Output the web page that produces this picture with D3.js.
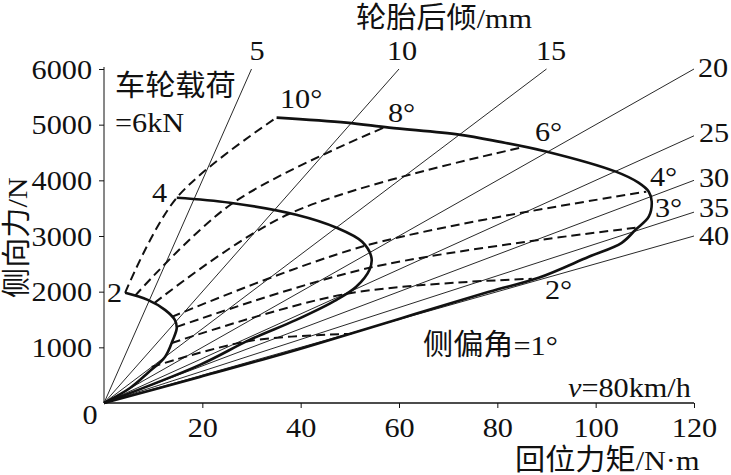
<!DOCTYPE html>
<html><head><meta charset="utf-8">
<script src="https://cdn.jsdelivr.net/npm/d3@7"></script>
<style>
html,body{margin:0;padding:0;background:#fff;}
svg{display:block;}
</style></head>
<body>
<svg id="c" width="731" height="475"></svg>
<script>
// ---------------- data ----------------
const xTickValues = [20, 40, 60, 80, 100, 120];          // 回位力矩 N·m
const yTickValues = [1000, 2000, 3000, 4000, 5000, 6000]; // 侧向力 N
const trailMM = [5, 10, 15, 20, 25, 30, 35, 40];          // 轮胎后倾 mm
const slipAngles = ["10°", "8°", "6°", "4°", "3°", "2°", "1°"];
const loadLabels = ["2", "4"];                            // kN (6 kN = 车轮载荷)

// points at each slip angle (10,8,6,4,3,2,1 deg), [M (N·m), Fy (N)]
const slip2kN = [[4.3,1979],[6.3,1925],[10.3,1799],[13.8,1547],[14.8,1367],[13.8,1079],[9.7,648]];
const slip4kN = [[14.8,3688],[26.0,3580],[37.7,3400],[53.1,2824],[54.0,2429],[49.3,1961],[29.6,1115]];
const slip6kN = [[35.1,5127],[57.4,4965],[85.4,4598],[110.3,3796],[108.1,3148],[87.0,2231],[50.3,1241]];

// constant-load curves
const curve2kN = [[4.3,1979],[8.9,1853],[12.4,1673],[14.4,1493],[14.8,1349],[14.0,1133],[12.4,828],[8.9,540],[5.3,270],[0,0]];
const curve4kN = [[14.8,3688],[25.6,3598],[39.1,3382],[47.3,3148],[52.5,2896],[54.4,2609],[54.0,2393],[51.3,2087],[47.3,1853],[39.1,1493],[29.6,1133],[19.5,684],[0,0]];
const curve6kN = [[35.1,5127],[49.3,5037],[58.0,4947],[72.2,4821],[80.3,4695],[90.1,4515],[104.1,4156],[108.7,3958],[110.8,3796],[111.4,3616],[110.8,3346],[108.1,3112],[105.3,2878],[98.6,2627],[88.4,2249],[78.3,1997],[60.0,1511],[37.7,917],[19.5,468],[0,0]];

// ---------------- layout ----------------
const svg = d3.select("#c");
const X0 = 104, X1 = 694, Y0 = 403, Y1 = 69;
const x = d3.scaleLinear().domain([0, 120]).range([X0, X1]);
const y = d3.scaleLinear().domain([0, 6000]).range([Y0, Y1]);
const SERIF = "'Liberation Serif','Times New Roman',serif";
const CJK = "'Noto Sans CJK SC','Noto Sans CJK JP',sans-serif";
const LAT_SIZE = 28, LAT_SX = 1.08, CJK_SIZE = 29, CJK_SX = 1.04;

function latin(g, str, px, py, anchor) {
  const t = g.append("text")
    .attr("transform", `translate(${px},${py}) scale(${LAT_SX},1)`)
    .attr("font-family", SERIF).attr("font-size", LAT_SIZE)
    .attr("text-anchor", anchor || "start").attr("fill", "#111")
    .text(str);
  return t;
}
function cjk(g, str, px, py) {
  const t = g.append("text")
    .attr("transform", `translate(${px},${py}) scale(${CJK_SX},1)`)
    .attr("font-family", CJK).attr("font-size", CJK_SIZE)
    .attr("fill", "#111").text(str);
  return t.node().getComputedTextLength() * CJK_SX;
}
function mixed(g, cjkStr, latStr, px, py) {
  const w = cjk(g, cjkStr, px, py);
  latin(g, latStr, px + w, py);
}

// ---------------- rays (tyre trail) ----------------
const rays = svg.append("g");
trailMM.forEach(t => {
  const slope = 1000 / t;                 // Fy = M*1000/t
  let mEnd = 120, fEnd = 120 * slope;
  if (fEnd > 6000) { fEnd = 6000; mEnd = 6000 / slope; }
  rays.append("line")
    .attr("x1", x(0)).attr("y1", y(0))
    .attr("x2", x(mEnd)).attr("y2", y(fEnd))
    .attr("stroke", "#111").attr("stroke-width", 0.9);
});

// ---------------- slip-angle dashed lines ----------------
const line = d3.line().x(d => x(d[0])).y(d => y(d[1])).curve(d3.curveCatmullRom.alpha(0.5));
const dashed = svg.append("g");
slipAngles.forEach((s, i) => {
  dashed.append("path")
    .attr("d", line([slip2kN[i], slip4kN[i], slip6kN[i]]))
    .attr("fill", "none").attr("stroke", "#111")
    .attr("stroke-width", 2).attr("stroke-dasharray", "9,5");
});

// ---------------- constant-load curves ----------------
[curve2kN, curve4kN, curve6kN].forEach(c => {
  svg.append("path").attr("d", line(c))
    .attr("fill", "none").attr("stroke", "#111").attr("stroke-width", 2.6);
});

// ---------------- axes ----------------
const xAxis = svg.append("g").attr("transform", `translate(0,${Y0})`)
  .call(d3.axisBottom(x).tickValues(xTickValues).tickSize(5).tickSizeOuter(0).tickFormat(d3.format("d")));
xAxis.select(".domain").attr("stroke", "#111").attr("stroke-width", 1.3)
  .attr("d", `M${X0},0H${X1}`);
xAxis.selectAll(".tick line").attr("stroke", "#111");
xAxis.selectAll(".tick text")
  .attr("font-family", SERIF).attr("font-size", LAT_SIZE).attr("fill", "#111")
  .attr("y", 0).attr("dy", 0)
  .attr("transform", `translate(0,34) scale(${LAT_SX},1)`);

const yAxis = svg.append("g").attr("transform", `translate(${X0},0)`)
  .call(d3.axisLeft(y).tickValues(yTickValues).tickSize(5).tickSizeOuter(0).tickFormat(d3.format("d")));
yAxis.select(".domain").attr("stroke", "#111").attr("stroke-width", 1)
  .attr("d", `M0,${Y0}V${Y1 - 2}`);
yAxis.selectAll(".tick line").attr("stroke", "#111");
yAxis.selectAll(".tick text")
  .attr("font-family", SERIF).attr("font-size", LAT_SIZE).attr("fill", "#111")
  .attr("x", 0).attr("dy", 0)
  .attr("transform", `translate(-12,9) scale(${LAT_SX},1)`);

const labels = svg.append("g");
latin(labels, "0", 90, 424, "middle");

// ---------------- texts ----------------
mixed(labels, "轮胎后倾", "/mm", 356, 28);
cjk(labels, "车轮载荷", 115, 96);
latin(labels, "=6kN", 115, 132);
mixed(labels, "回位力矩", "/N·m", 515, 470);
mixed(labels, "侧偏角", "=1°", 423, 355);

// y-axis title rotated
const yt = labels.append("g").attr("transform", "translate(27,298) rotate(-90)");
mixed(yt, "侧向力", "/N", 0, 0);

// speed
const sp = labels.append("text")
  .attr("transform", `translate(568,397) scale(${LAT_SX},1)`)
  .attr("font-family", SERIF).attr("font-size", LAT_SIZE).attr("fill", "#111");
sp.append("tspan").attr("font-style", "italic").text("v");
sp.append("tspan").text("=80km/h");

// slip angle labels (6 kN curve)
const slipPos = [[280,108],[388,122],[535,141],[650,186],[655,217],[545,299]];
slipPos.forEach((p, i) => latin(labels, slipAngles[i], p[0], p[1]));

// load labels
latin(labels, loadLabels[1], 152, 202);
latin(labels, loadLabels[0], 107, 302);

// trail labels
const trailPos = [[257,60,"middle"],[402,60,"middle"],[551,60,"middle"],[698,77],[699,142],[699,187],[699,217],[699,245]];
trailMM.forEach((t, i) => latin(labels, String(t), trailPos[i][0], trailPos[i][1], trailPos[i][2]));
</script>
</body></html>
